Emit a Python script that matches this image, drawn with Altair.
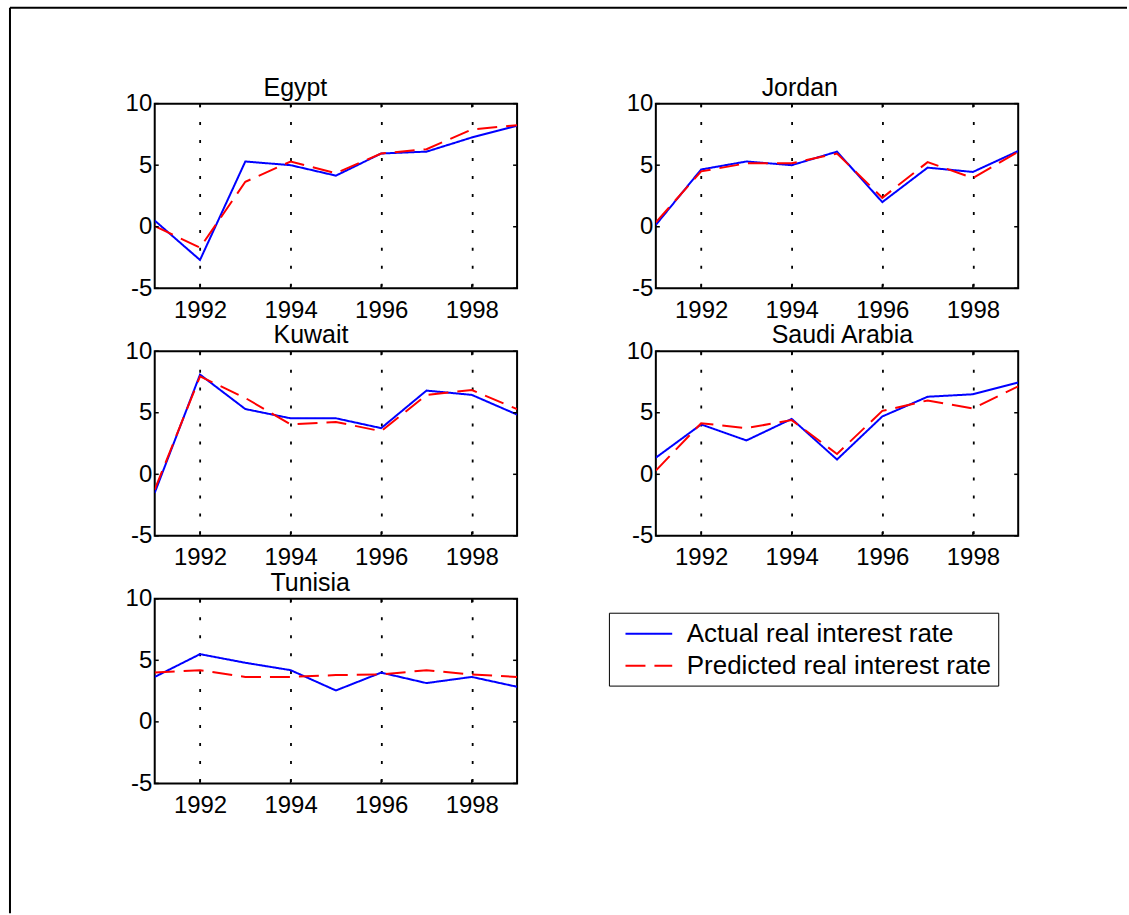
import altair as alt
import pandas as pd

years = [1991, 1992, 1993, 1994, 1995, 1996, 1997, 1998, 1999]

egypt_actual = [0.5, -2.7, 5.3, 5.0, 4.15, 5.95, 6.1, 7.25, 8.2]
egypt_predicted = [0.05, -1.7, 3.65, 5.3, 4.35, 5.95, 6.3, 7.9, 8.25]

jordan_actual = [0.15, 4.65, 5.3, 5.0, 6.1, 2.0, 4.8, 4.45, 6.15]
jordan_predicted = [0.35, 4.5, 5.15, 5.15, 5.95, 2.35, 5.25, 3.95, 6.1]

kuwait_actual = [-1.5, 8.1, 5.3, 4.55, 4.55, 3.75, 6.8, 6.45, 4.85]
kuwait_predicted = [-1.25, 7.95, 6.2, 4.05, 4.25, 3.5, 6.45, 6.85, 5.3]

saudi_actual = [1.35, 4.05, 2.75, 4.5, 1.2, 4.7, 6.3, 6.5, 7.45]
saudi_predicted = [0.3, 4.15, 3.75, 4.4, 1.65, 5.15, 6.0, 5.35, 7.15]

tunisia_actual = [3.65, 5.5, 4.8, 4.2, 2.55, 4.0, 3.15, 3.65, 2.85]
tunisia_predicted = [4.0, 4.2, 3.65, 3.65, 3.8, 3.85, 4.2, 3.85, 3.65]

panel_names = ["Egypt", "Jordan", "Kuwait", "Saudi Arabia", "Tunisia"]
series_names = ["Actual real interest rate", "Predicted real interest rate"]
x_tick_values = [1992, 1994, 1996, 1998]
y_tick_values = [-5, 0, 5, 10]

FONT = "Liberation Sans"
PW, PH = 363, 185
TICK = 4
title_dx = [109, 106, 119, 116, 116]

legend = alt.Legend(
    orient="none", legendX=455, legendY=510, title=None,
    strokeColor="black", fillColor="white", padding=7, rowPadding=5,
    labelFont=FONT, labelFontSize=26, labelColor="black", labelLimit=600,
    labelOffset=24, symbolOffset=19, symbolSize=676,
    symbolType="M-1.8,0H1.8", symbolStrokeWidth=2,
)

xscale = alt.Scale(domain=[1991, 1999], nice=False, zero=False)
yscale = alt.Scale(domain=[-5, 10], nice=False, zero=False)
xaxis = alt.Axis(values=x_tick_values, format="d", grid=True, title=None, labelPadding=10)
yaxis = alt.Axis(values=y_tick_values, grid=False, title=None, labelPadding=3,
                 labelExpr="replace(datum.label, '\u2212', '-')")


def panel(name, act, pred, dx):
    df = pd.DataFrame({
        "year": years + years,
        "value": act + pred,
        "series": [series_names[0]] * len(years) + [series_names[1]] * len(years),
    })
    lines = alt.Chart(df).mark_line(strokeWidth=2, clip=True).encode(
        x=alt.X("year:Q", scale=xscale, axis=xaxis),
        y=alt.Y("value:Q", scale=yscale, axis=yaxis),
        color=alt.Color("series:N", scale=alt.Scale(domain=series_names, range=["#0000ff", "#ff0000"]),
                        legend=legend),
        strokeDash=alt.StrokeDash("series:N", scale=alt.Scale(domain=series_names, range=[[1, 0], [20, 9]]),
                                  legend=legend),
    )
    ydf = pd.DataFrame({"value": y_tick_values})
    xdf = pd.DataFrame({"year": x_tick_values})
    left = alt.Chart(ydf).mark_rule(color="black", strokeWidth=1.5).encode(
        y=alt.Y("value:Q", scale=yscale, axis=yaxis), x=alt.value(0), x2=alt.value(TICK))
    right = alt.Chart(ydf).mark_rule(color="black", strokeWidth=1.5).encode(
        y=alt.Y("value:Q", scale=yscale, axis=yaxis), x=alt.value(PW - TICK), x2=alt.value(PW))
    bottom = alt.Chart(xdf).mark_rule(color="black", strokeWidth=1.5).encode(
        x=alt.X("year:Q", scale=xscale, axis=xaxis), y=alt.value(PH), y2=alt.value(PH - TICK))
    top = alt.Chart(xdf).mark_rule(color="black", strokeWidth=1.5).encode(
        x=alt.X("year:Q", scale=xscale, axis=xaxis), y=alt.value(0), y2=alt.value(TICK))
    return alt.layer(lines, left, right, bottom, top).properties(
        width=PW, height=PH,
        title=alt.TitleParams(text=name, anchor="start", frame="group", dx=dx,
                              baseline="alphabetic", offset=-29, font=FONT, fontSize=25,
                              fontWeight="normal", color="black"),
    )


panels = [
    panel(panel_names[0], egypt_actual, egypt_predicted, title_dx[0]),
    panel(panel_names[1], jordan_actual, jordan_predicted, title_dx[1]),
    panel(panel_names[2], kuwait_actual, kuwait_predicted, title_dx[2]),
    panel(panel_names[3], saudi_actual, saudi_predicted, title_dx[3]),
    panel(panel_names[4], tunisia_actual, tunisia_predicted, title_dx[4]),
]

# figure frame (left and top edges), drawn in the empty sixth cell
frame_df = pd.DataFrame({"k": [0]})
frame_left = alt.Chart(frame_df).mark_rule(color="black", strokeWidth=2).encode(
    x=alt.value(-647), y=alt.value(-592), y2=alt.value(315))
frame_top = alt.Chart(frame_df).mark_rule(color="black", strokeWidth=2).encode(
    x=alt.value(-647), x2=alt.value(472), y=alt.value(-592))
frame_cell = alt.layer(frame_left, frame_top).properties(
    width=PW, height=PH, view=alt.ViewBackground(stroke="transparent"))

chart = alt.concat(
    *panels, frame_cell, columns=2, spacing={"row": 63, "column": 139}, bounds="flush"
).resolve_scale(
    color="shared", strokeDash="shared"
).properties(
    padding={"left": 8, "top": 5, "right": 0, "bottom": 0}, background="white"
).configure_axis(
    domain=False, ticks=False, tickSize=0,
    labelFont=FONT, labelFontSize=24, labelColor="black",
    gridColor="black", gridDash=[3, 15], gridWidth=1.8, gridOpacity=1,
).configure_view(
    stroke="black", strokeWidth=2
)

chart.save("out.html", embed_options={"renderer": "svg", "actions": False})
